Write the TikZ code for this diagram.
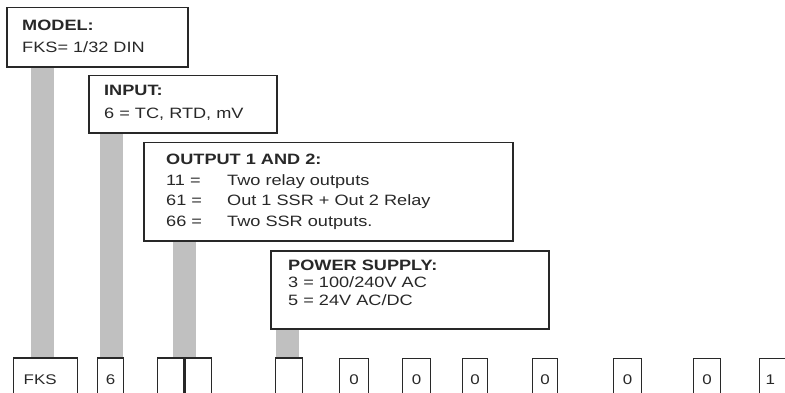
\documentclass[tikz,border=0pt]{standalone}
\usepackage{fontspec}
\setmainfont{Liberation Sans}[FakeStretch=1.21]
\usepackage{xcolor}
\usepackage{tikz}
\usetikzlibrary{positioning}
\definecolor{bargray}{RGB}{192,192,192}
\definecolor{inkgray}{RGB}{40,40,40}

\begin{document}
\begin{tikzpicture}[x=1pt, y=-1pt,
	descbox/.style={draw=inkgray, line width=1.5pt, rectangle, anchor=north west, inner sep=0pt},
	desctext/.style={anchor=base west, align=left, inner sep=0pt, text=inkgray},
	codebox/.style={draw=inkgray, line width=1.3pt, rectangle, anchor=north west, minimum height=42pt, inner sep=0pt, font=\fontsize{14}{16}\selectfont, text=inkgray},
	bar/.style={draw=bargray, line width=23pt}]
				\useasboundingbox (0,0) rectangle (785,393);
				\clip (0,0) rectangle (785,393);
				% description boxes
				\node[descbox, minimum width=181pt, minimum height=59pt] (model) at (6,7) {};
				\node[descbox, minimum width=188pt, minimum height=57pt] (input) at (88,75) {};
				\node[descbox, minimum width=369pt, minimum height=98pt] (output) at (143,142) {};
				\node[descbox, minimum width=278pt, minimum height=78pt] (power) at (270,250) {};
				% code boxes
				\node[codebox, minimum width=64pt, text width=44pt, align=left] (fks) at (13,358) {FKS};
				\node[codebox, minimum width=26pt] (six) at (97,358) {6};
				\node[codebox, minimum width=26pt] (outa) at (157,358) {};
				\node[codebox, minimum width=27pt] (outb) at (184,358) {};
				\node[codebox, minimum width=27pt] (pw) at (275,358) {};
				\node[codebox, minimum width=29pt] (zeroa) at (339,358) {0};
				\node[codebox, minimum width=28pt] (zerob) at (402,358) {0};
				\node[codebox, minimum width=25pt] (zeroc) at (462,358) {0};
				\node[codebox, minimum width=25pt] (zerod) at (532,358) {0};
				\node[codebox, minimum width=28pt] (zeroe) at (613,358) {0};
				\node[codebox, minimum width=27pt] (zerof) at (693,358) {0};
				\node[codebox, minimum width=27pt, text width=15pt, align=left] (one) at (759,358) {1};
				\draw[inkgray, line width=2.6pt] (outa.north east) -- (outa.south east);
				% gray bars
				\draw[bar] ([xshift=-3.5pt]fks.north) -- ([xshift=-3.5pt]fks.north |- model.south);
				\draw[bar] ([xshift=0.5pt]six.north) -- ([xshift=0.5pt]six.north |- input.south);
				\draw[bar] (outa.north east) -- (outa.north east |- output.south);
				\draw[bar] ([xshift=-2pt]pw.north) -- ([xshift=-2pt]pw.north |- power.south);
				% redraw borders over bar ends
				\draw[inkgray, line width=1.5pt] (model.south west) -- (model.south east);
				\draw[inkgray, line width=1.5pt] (input.south west) -- (input.south east);
				\draw[inkgray, line width=1.5pt] (output.south west) -- (output.south east);
				\draw[inkgray, line width=1.5pt] (power.south west) -- (power.south east);
				\draw[inkgray, line width=1.3pt] (fks.north west) -- (fks.north east);
				\draw[inkgray, line width=1.3pt] (six.north west) -- (six.north east);
				\draw[inkgray, line width=1.3pt] (outa.north west) -- (outb.north east);
				\draw[inkgray, line width=1.3pt] (pw.north west) -- (pw.north east);
				% texts (base = last line)
				\node[desctext, font=\fontsize{15}{22}\selectfont] (modeltxt) at ([shift={(16,45.4)}]model.north west)
					{\textbf{MODEL:}\\FKS= 1/32 DIN};
				\node[desctext, font=\fontsize{15}{23}\selectfont] (inputtxt) at ([shift={(16,43.4)}]input.north west)
					{\textbf{INPUT:}\\6 = TC, RTD, mV};
				\node[desctext, font=\fontsize{15}{20.5}\selectfont] (outputtxt) at ([shift={(23,84.4)}]output.north west)
					{\textbf{OUTPUT 1 AND 2:}\\\makebox[61pt][l]{11 =}Two relay outputs\\\makebox[61pt][l]{61 =}Out 1 SSR + Out 2 Relay\\\makebox[61pt][l]{66 =}Two SSR outputs.};
				\node[desctext, font=\fontsize{15}{17.5}\selectfont] (powertxt) at ([shift={(18,55.4)}]power.north west)
					{\textbf{POWER SUPPLY:}\\3 = 100/240V AC\\5 = 24V AC/DC};
			\end{tikzpicture}
\end{document}
